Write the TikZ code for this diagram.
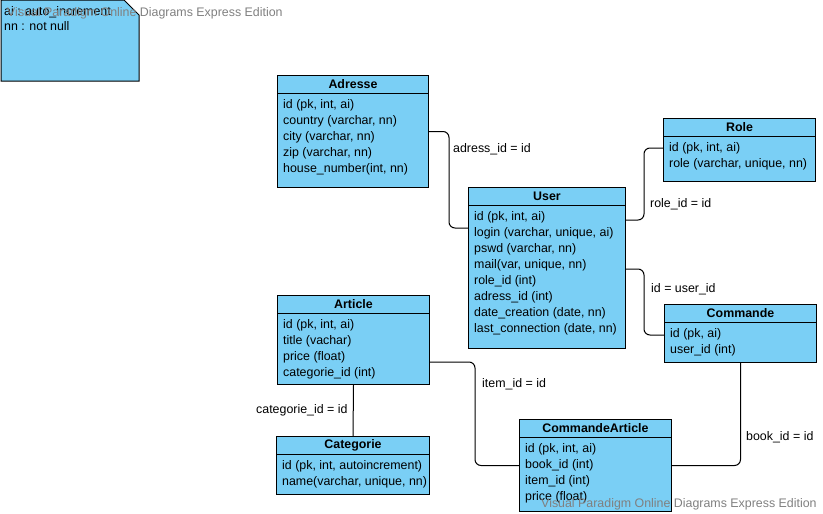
\documentclass[tikz,border=0pt]{standalone}
\usepackage{fontspec}
\setmainfont{Liberation Sans}
\usetikzlibrary{calc}
\definecolor{tblfill}{RGB}{122,207,245}
\definecolor{wmark}{RGB}{128,128,128}
\tikzset{
  tbl/.style={draw=black, line width=1pt, fill=tblfill, inner sep=0pt},
  edge/.style={draw=black, line width=1pt},
  ttl/.style={font=\fontsize{12.4}{14}\selectfont\bfseries, inner sep=0pt},
  row/.style={font=\fontsize{12.4}{14}\selectfont, inner sep=0pt},
  lbl/.style={font=\fontsize{12.4}{14}\selectfont, inner sep=0pt, anchor=west},
  conn/.style={draw=black, line width=1pt, rounded corners=6pt},
  wm/.style={font=\fontsize{12.4}{14}\selectfont, text=wmark, inner sep=0pt, anchor=west}
}
% entity box: name, x, y, width, height, title, rows
\newcommand\erbox[7]{%
  \node[tbl, minimum width=#4, minimum height=#5, anchor=north west] (#1) at (#2,#3) {};
  \draw[edge] ($(#1.north west)+(0,18)$) -- ($(#1.north east)+(0,18)$);
  \node[ttl] (#1-t) at ($(#1.north)+(0,9)$) {#6};
  \foreach \r [count=\i] in {#7}
    \node[row, anchor=west] (#1-\i) at ($(#1.north west)+(6,14.5+16*\i)$) {\r};
}
\begin{document}
\begin{tikzpicture}[x=1pt, y=-1pt]
\useasboundingbox (0,0) rectangle (823,514);

% legend note with folded corner
\filldraw[fill=tblfill, line width=1pt] (1,0) -- (124,0) -- (139,15) -- (139,81) -- (1,81) -- cycle;
\node[row, anchor=north west, align=left, font=\fontsize{12.4}{15}\selectfont] (note) at (4,6)
  {ai : auto\_increment\\nn : not null};

\erbox{adresse}{277}{75}{151}{112}{Adresse}{%
  {id (pk, int, ai)},{country (varchar, nn)},{city (varchar, nn)},{zip (varchar, nn)},{house\_number(int, nn)}}
\erbox{user}{468}{187}{157}{161}{User}{%
  {id (pk, int, ai)},{login (varchar, unique, ai)},{pswd (varchar, nn)},{mail(var, unique, nn)},%
  {role\_id (int)},{adress\_id (int)},{date\_creation (date, nn)},{last\_connection (date, nn)}}
\erbox{role}{663}{118}{152}{63}{Role}{%
  {id (pk, int, ai)},{role (varchar, unique, nn)}}
\erbox{commande}{664}{304}{152}{58}{Commande}{%
  {id (pk, ai)},{user\_id (int)}}
\erbox{article}{277}{295}{152}{89}{Article}{%
  {id (pk, int, ai)},{title (vachar)},{price (float)},{categorie\_id (int)}}
\erbox{categorie}{276}{436}{153}{58}{Categorie}{%
  {id (pk, int, autoincrement)},{name(varchar, unique, nn)}}
\erbox{cmdart}{519}{419}{152}{92}{CommandeArticle}{%
  {id (pk, int, ai)},{book\_id (int)},{item\_id (int)},{price (float)}}

% connector end points on box edges
\coordinate (uA) at ($(user.north west)+(0,41)$);
\coordinate (uR) at ($(user.north east)+(0,33)$);
\coordinate (uC) at ($(user.north east)+(0,82)$);
\coordinate (rL) at ($(role.north west)+(0,30)$);
\coordinate (cL) at ($(commande.north west)+(0,31)$);
\coordinate (aR) at ($(article.north east)+(0,67)$);

% relations
\draw[conn] (adresse.east) -- ++(20,0) |- (uA);
\draw[conn] (uR) -- ++(18,0) |- (rL);
\draw[conn] (uC) -- ++(18,0) |- (cL);
\draw[conn] (aR) -- ++(45,0) |- (cmdart.west);
\draw[conn] (commande.south) |- (cmdart.east);
\draw[conn] (article.south) -- (categorie.north);

% relation labels
\node[lbl] (l1) at (453,149.5) {adress\_id = id};
\node[lbl] (l2) at (650,204.5) {role\_id = id};
\node[lbl] (l3) at (651,289.5) {id = user\_id};
\node[lbl] (l4) at (482,384.5) {item\_id = id};
\node[lbl] (l5) at (746,437.5) {book\_id = id};
\node[lbl] (l6) at (256,410.5) {categorie\_id = id};

% edition marks
\node[wm] (wm1) at (7,13) {Visual Paradigm Online Diagrams Express Edition};
\node[wm] (wm2) at (541,504) {Visual Paradigm Online Diagrams Express Edition};
\end{tikzpicture}
\end{document}
